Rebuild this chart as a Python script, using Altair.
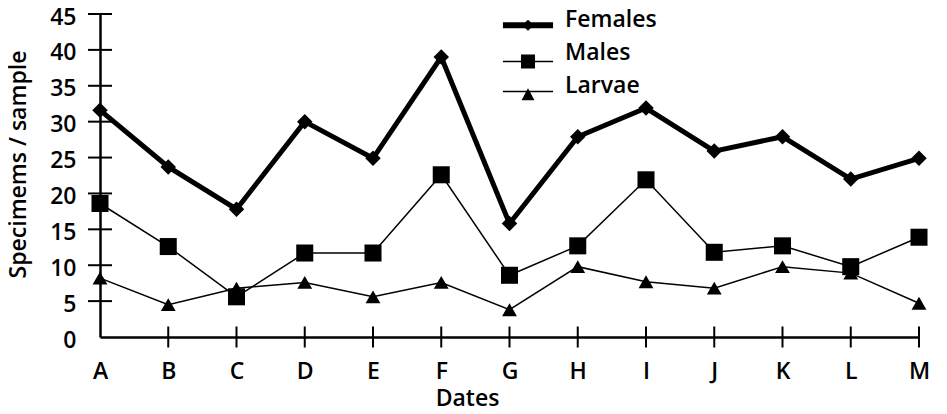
import altair as alt
import pandas as pd

dates = list("ABCDEFGHIJKLM")
females = [31.6, 23.7, 17.8, 30.0, 24.9, 39.0, 15.8, 27.9, 31.9, 25.9, 27.9, 22.0, 24.9]
males = [18.6, 12.6, 5.6, 11.7, 11.7, 22.6, 8.6, 12.7, 21.9, 11.8, 12.7, 9.8, 13.9]
larvae = [8.2, 4.5, 6.8, 7.6, 5.6, 7.6, 3.8, 9.8, 7.7, 6.8, 9.8, 8.9, 4.7]
series = ["Females", "Males", "Larvae"]
y_ticks = [0, 5, 10, 15, 20, 25, 30, 35, 40, 45]

FONT = "Open Sans"
WEIGHT = 600

df = pd.DataFrame({
    "Date": dates * 3,
    "Series": ["Females"] * len(dates) + ["Males"] * len(dates) + ["Larvae"] * len(dates),
    "Value": females + males + larvae,
})

x = alt.X("Date:N", scale=alt.Scale(type="point", padding=0, domain=dates),
          axis=alt.Axis(title="Dates", labelAngle=0, labelBaseline="alphabetic", labelPadding=41,
                        titleX=367, titleY=68, titleBaseline="alphabetic"))
y = alt.Y("Value:Q", scale=alt.Scale(domain=[0, 45], nice=False, zero=True),
          axis=alt.Axis(title="Specimems / sample", values=y_ticks, labelPadding=24,
                        labelBaseline="alphabetic", labelOffset=10,
                        titleX=-70, titleY=150))

line_widths = {"Females": 5, "Males": 1.5, "Larvae": 1.5}
shapes = {"Females": "diamond", "Males": "square", "Larvae": "triangle-up"}
sizes = {"Females": 240, "Males": 290, "Larvae": 220}

layers = []
for s in series:
    base = alt.Chart(df).transform_filter(alt.datum.Series == s)
    layers.append(base.mark_line(color="black", strokeWidth=line_widths[s], strokeJoin="miter").encode(x=x, y=y))
    layers.append(base.mark_point(filled=True, color="black", opacity=1, shape=shapes[s],
                                  size=sizes[s], strokeWidth=0).encode(x=x, y=y))

# crossing tick marks on the axes
ytick_df = pd.DataFrame({"Date": [dates[0]] * (len(y_ticks) - 1), "Value": y_ticks[1:]})
xtick_df = pd.DataFrame({"Date": dates[1:], "Value": [0] * (len(dates) - 1)})
layers.append(alt.Chart(ytick_df).mark_tick(color="black", size=24, thickness=2, opacity=1).encode(x=x, y=y))
layers.append(alt.Chart(xtick_df).mark_tick(color="black", size=21, thickness=2, opacity=1,
                                            orient="vertical").encode(x=x, y=y))

# legend symbols: line sample with marker (same vertical extent for every entry)
legend_paths = [
    "M0,-1.2L0,-1.2Z M0,1.2L0,1.2Z M-1.79,0.20L-0.20,0.20L0,0.02L0.20,0.20L1.79,0.20L1.79,0.62L0.20,0.62L0,0.80L-0.20,0.62L-1.79,0.62Z",
    "M0,-1.2L0,-1.2Z M0,1.2L0,1.2Z M-1.79,0.59L-0.5,0.59L-0.5,0.14L0.5,0.14L0.5,0.59L1.79,0.59L1.79,0.69L0.5,0.69L0.5,1.14L-0.5,1.14L-0.5,0.69L-1.79,0.69Z",
    "M0,-1.2L0,-1.2Z M0,1.2L0,1.2Z M-1.79,0.38L-0.10,0.38L0,0.19L0.10,0.38L1.79,0.38L1.79,0.48L0.155,0.48L0.46,1.05L-0.46,1.05L-0.155,0.48L-1.79,0.48Z",
]
legend_layer = alt.Chart(df).transform_filter(alt.datum.Value < -1).mark_point(
    filled=True, color="black", size=784, strokeWidth=0, opacity=1
).encode(
    x=x, y=y,
    shape=alt.Shape("Series:N", title=None,
                    scale=alt.Scale(domain=series, range=legend_paths),
                    legend=alt.Legend(orient="none", legendX=414, legendY=-8.5, padding=0,
                                      labelFont=FONT, labelFontSize=23, labelFontWeight=WEIGHT,
                                      labelColor="black",
                                      labelOffset=23, symbolSize=784, rowPadding=-1,
                                      symbolFillColor="black", symbolStrokeWidth=0,
                                      symbolOpacity=1)),
)
layers.append(legend_layer)

chart = alt.layer(*layers).properties(
    width=819, height=323,
    padding={"left": 92, "top": 6, "right": 20, "bottom": 77},
    autosize=alt.AutoSizeParams(type="none"),
).configure(font=FONT).configure_view(stroke=None).configure_axis(
    domainColor="black", domainWidth=2.5, ticks=False, tickSize=0, grid=False,
    labelFont=FONT, labelFontSize=23, labelColor="black", labelFontWeight=WEIGHT,
    titleFont=FONT, titleFontSize=23, titleColor="black", titleFontWeight=WEIGHT,
)

chart.save("out.html", embed_options={"renderer": "svg", "actions": False})
